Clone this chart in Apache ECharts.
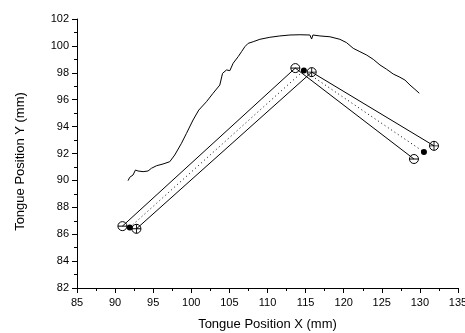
<!DOCTYPE html>
<html>
<head>
<meta charset="utf-8">
<script src="https://cdn.jsdelivr.net/npm/echarts@6/dist/echarts.min.js"></script>
<style>
  html, body { margin: 0; padding: 0; background: #fff; }
  #main { width: 465px; height: 333px; }
</style>
</head>
<body>
<div id="main"></div>
<script>
// palate trace (mm)
const palateX = [91.70, 91.92, 92.35, 92.67, 92.80, 93.01, 93.67, 94.32, 94.77, 95.43,
  96.29, 97.17, 97.83, 98.71, 99.37, 100.23, 100.98, 101.99, 102.86, 103.74,
  104.10, 104.62, 105.06, 105.49, 106.15, 106.59, 107.03, 107.46, 108.12, 109.00,
  110.31, 111.62, 112.94, 114.25, 115.56, 115.79, 115.96, 116.88, 118.19, 119.50,
  120.38, 121.25, 122.13, 123.01, 123.88, 124.76, 125.64, 126.50, 127.38, 128.04,
  128.70, 129.35, 129.92]
const palateY = [89.98, 90.23, 90.40, 90.77, 90.90, 90.70, 90.65, 90.70, 90.90, 91.09,
  91.22, 91.39, 91.89, 92.76, 93.50, 94.49, 95.23, 95.85, 96.48, 97.09,
  97.96, 98.21, 98.16, 98.71, 99.20, 99.57, 99.94, 100.19, 100.31, 100.49,
  100.64, 100.74, 100.81, 100.83, 100.81, 100.51, 100.81, 100.74, 100.68, 100.49,
  100.24, 99.82, 99.57, 99.32, 99.00, 98.58, 98.26, 97.91, 97.67, 97.46,
  97.09, 96.77, 96.48]

// sensor positions: minus coil, centre dot, plus coil (left, top, right)
const minusX = [90.96, 113.65, 129.22]
const minusY = [86.60, 98.35, 91.59]
const dotX = [91.92, 114.77, 130.53]
const dotY = [86.50, 98.17, 92.11]
const plusX = [92.80, 115.80, 131.85]
const plusY = [86.40, 98.05, 92.57]

const xTicks = { min: 85, max: 135, interval: 5 }
const yTicks = { min: 82, max: 102, interval: 2 }

const zip = (xs, ys) => xs.map((x, i) => [x, ys[i]])

const font = 'Liberation Sans, Arial, sans-serif'
const axisCommon = {
  type: 'value',
  nameLocation: 'middle',
  nameTextStyle: { color: '#000', fontSize: 13, fontFamily: font },
  axisLine: { show: true, lineStyle: { color: '#000', width: 1 } },
  axisTick: { show: true, length: 5, lineStyle: { color: '#000' } },
  minorTick: { show: true, splitNumber: 2, length: 3, lineStyle: { color: '#000' } },
  axisLabel: { color: '#000', fontSize: 11, fontFamily: font },
  splitLine: { show: false },
}

const PLUS = 'path://M0,4.5H10V5.5H0Z M4.5,0H5.5V10H4.5Z'
const MINUS = 'path://M0,0H10V1H0Z'

const thin = { color: '#000', width: 1 }
const chart = echarts.init(document.getElementById('main'))
chart.setOption({
  animation: false,
  grid: { left: 77, right: 7, top: 19, bottom: 45, containLabel: false, outerBoundsMode: 'none' },
  xAxis: {
    ...axisCommon,
    ...xTicks,
    name: 'Tongue Position X (mm)',
    nameGap: 30,
    axisLabel: { ...axisCommon.axisLabel, margin: 9 },
  },
  yAxis: {
    ...axisCommon,
    ...yTicks,
    name: 'Tongue Position Y (mm)',
    nameGap: 50,
    nameTextStyle: { ...axisCommon.nameTextStyle, padding: [0, 16, 0, 0] },
  },
  series: [
    {
      type: 'line', data: zip(palateX, palateY), showSymbol: false,
      lineStyle: thin, itemStyle: { color: '#000' },
    },
    {
      type: 'line', data: zip(minusX, minusY), showSymbol: false,
      lineStyle: thin, itemStyle: { color: '#000' },
    },
    {
      type: 'line', data: zip(plusX, plusY), showSymbol: false,
      lineStyle: thin, itemStyle: { color: '#000' },
    },
    {
      type: 'line', data: zip(dotX, dotY), showSymbol: false,
      lineStyle: { color: '#000', width: 1, type: [1, 3] }, itemStyle: { color: '#000' },
    },
    {
      type: 'scatter', data: zip(minusX, minusY).concat(zip(plusX, plusY)),
      symbol: 'circle', symbolSize: 9,
      itemStyle: { color: '#fff', borderColor: '#000', borderWidth: 1, opacity: 1 },
    },
    {
      type: 'scatter', data: zip(minusX, minusY),
      symbol: MINUS, symbolSize: [9, 1],
      itemStyle: { color: '#000', opacity: 1 },
    },
    {
      type: 'scatter', data: zip(plusX, plusY),
      symbol: PLUS, symbolSize: 9,
      itemStyle: { color: '#000', opacity: 1 },
    },
    {
      type: 'scatter', data: zip(dotX, dotY),
      symbol: 'circle', symbolSize: 6,
      itemStyle: { color: '#000', opacity: 1 },
    },
  ],
})
</script>
</body>
</html>
